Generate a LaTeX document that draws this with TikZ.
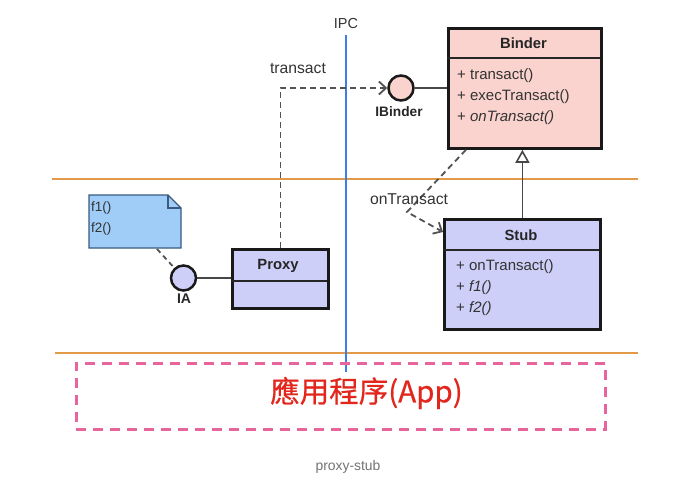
\documentclass[tikz,border=0pt]{standalone}
\usepackage{fontspec}
\setmainfont{Liberation Sans}
\newfontfamily\cjkfont[FakeBold=0.6]{Noto Sans CJK TC}
\usetikzlibrary{arrows.meta}
\definecolor{binderfill}{HTML}{FAD3CE}
\definecolor{stubfill}{HTML}{CDCFF8}
\definecolor{notefill}{HTML}{9FCDF8}
\definecolor{notedraw}{HTML}{3A5A80}
\definecolor{orangeline}{HTML}{E39A48}
\definecolor{ipcblue}{HTML}{3D7FE6}
\definecolor{apppink}{HTML}{E8649C}
\definecolor{appred}{HTML}{E3261C}
\begin{document}
\begin{tikzpicture}[x=1pt,y=-1pt,
  umlbox/.style={draw=black!90,line width=2.8pt,anchor=north west,inner sep=0pt},
  titletxt/.style={font=\fontsize{14.8}{17}\selectfont\bfseries,inner sep=0pt,text=black!85},
  member/.style={font=\fontsize{15}{17}\selectfont,anchor=west,inner sep=0pt,text=black!80},
  iface/.style={circle,draw=black!90,line width=2.5pt,minimum size=25pt,inner sep=0pt},
  conn/.style={line width=1.8pt,draw=black!72},
  dashconn/.style={line width=1.8pt,draw=black!68,dash pattern=on 6pt off 4pt},
  lbl/.style={font=\fontsize{15.7}{18}\selectfont,text=black!80,inner sep=0pt},
  hline/.style={draw=orangeline,line width=2.4pt}]
\useasboundingbox[fill=white] (0,0) rectangle (691,484);

% layer lines
\draw[hline] (52,179) -- (638,179);
\draw[hline] (55,353) -- (638,353);

% IPC
\node[lbl,font=\fontsize{14.5}{17}\selectfont] (ipc) at (346,24) {IPC};
\coordinate (ipcend) at (346,372);
\draw[ipcblue,line width=2.8pt] ([yshift=-6pt]ipc.south) -- (ipcend);

% Binder
\node[umlbox,fill=binderfill,minimum width=153pt,minimum height=120pt] (binder) at (447,27) {};
\draw[line width=1.8pt,black!85] (447,58) -- (600,58);
\node[titletxt] (bindert) at (523.5,43) {Binder};
\node[member] (b1) at (457,76) {+ transact()};
\node[member] (b2) at (457,97) {+ execTransact()};
\node[member] (b3) at (457,118) {+ \itshape onTransact()};

% IBinder interface
\node[iface,fill=binderfill] (ibinder) at (401,88) {};
\node[titletxt,font=\fontsize{13.7}{16}\selectfont\bfseries] (ibinderl) at (399,112) {IBinder};

% Stub
\node[umlbox,fill=stubfill,minimum width=156pt,minimum height=110pt] (stub) at (443,218) {};
\draw[line width=1.8pt,black!85] (443,250) -- (599,250);
\node[titletxt] (stubt) at (521,235) {Stub};
\node[member] (s1) at (456,267) {+ onTransact()};
\node[member] (s2) at (456,288) {+ \itshape f1()};
\node[member] (s3) at (456,309) {+ \itshape f2()};

% Proxy
\node[umlbox,fill=stubfill,minimum width=96pt,minimum height=59pt] (proxy) at (231,248) {};
\draw[line width=1.8pt,black!85] (231,281) -- (327,281);
\node[titletxt] (proxyt) at (278,266) {Proxy};

% IA interface
\node[iface,fill=stubfill] (ia) at (183.5,278) {};
\node[titletxt,font=\fontsize{14}{16}\selectfont\bfseries] (ial) at (184,299) {IA};

% Note
\draw[notedraw,line width=1.3pt,fill=notefill] (89,195) -- (168,195) -- (181,208) -- (181,248) -- (89,248) -- cycle;
\draw[notedraw,line width=1.3pt] (168,195) -- (168,208) -- (181,208);
\node[member,font=\fontsize{13.5}{16}\selectfont] (n1) at (91,208) {f1()};
\node[member,font=\fontsize{13.5}{16}\selectfont] (n2) at (91,229) {f2()};
\coordinate (notebot) at (157,249);

% connectors
\draw[conn] (ibinder) -- (ibinder -| binder.west);
\draw[conn] (ia) -- (ia -| proxy.west);
\draw[dashconn,dash pattern=on 5pt off 4pt] (notebot) -- (ia);
\draw[dashconn,-{Straight Barb[length=7pt,width=13pt,line width=1.8pt]}] (proxy.north) -- (proxy.north |- ibinder) -- (ibinder.west);
\node[lbl] (transactl) at (298,69) {transact};
\draw[conn,-{Triangle[fill=white,length=13pt,width=14pt,line width=1.6pt]}] (stub.north) -- (stub.north |- binder.south);
\coordinate (bend) at (407,212);
\draw[dashconn,-{Straight Barb[length=7pt,width=13pt,line width=1.8pt]}] ([xshift=19pt]binder.south west) -- (bend) -- ([yshift=-14pt]stub.north west);
\node[lbl] (ontl) at (409,199) {onTransact};

% App
\node[draw=apppink,line width=2.6pt,dash pattern=on 10pt off 7pt,minimum width=529pt,minimum height=66pt,anchor=north west] (app) at (75,362) {};
\node[text=appred,font=\cjkfont\fontsize{29.5}{33}\selectfont,inner sep=0pt] (appt) at (366.5,393) {應用程序(App)};

% caption
\node[text=black!55,font=\fontsize{13.9}{16}\selectfont] (cap) at (348,467) {proxy-stub};
\end{tikzpicture}
\end{document}
